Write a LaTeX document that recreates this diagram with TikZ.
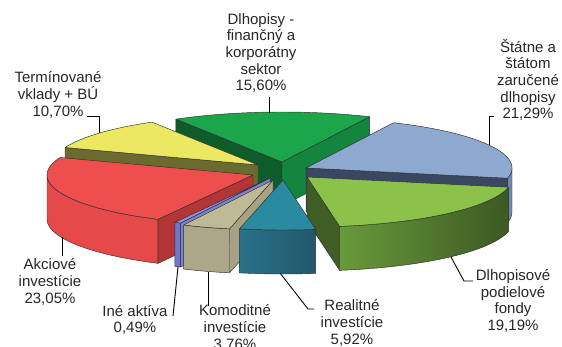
\documentclass[tikz,border=0pt]{standalone}
\usepackage{fontspec}
\setmainfont{Liberation Sans}
\definecolor{edge}{HTML}{2E2E2E}
\definecolor{gtop}{HTML}{1CA64B}
\definecolor{gcut}{HTML}{0D5C2A}
\definecolor{gcuttwo}{HTML}{13853F}
\definecolor{btop}{HTML}{8DA9CF}
\definecolor{bcut}{HTML}{3A4760}
\definecolor{bside}{HTML}{7188AC}
\definecolor{ytop}{HTML}{ECE862}
\definecolor{ycut}{HTML}{6B6B30}
\definecolor{rtop}{HTML}{EE4E4E}
\definecolor{rside}{HTML}{E64949}
\definecolor{rcut}{HTML}{B33535}
\definecolor{ltop}{HTML}{8BC34A}
\definecolor{lcut}{HTML}{3F5E26}
\definecolor{lsideA}{HTML}{689A3A}
\definecolor{lsideB}{HTML}{3C5923}
\definecolor{vtop}{HTML}{9194DC}
\definecolor{vcut}{HTML}{7E81CF}
\definecolor{vside}{HTML}{7275C4}
\definecolor{ttop}{HTML}{BFBA96}
\definecolor{tcut}{HTML}{A8A283}
\definecolor{tside}{HTML}{ADA78A}
\definecolor{ctop}{HTML}{2A8AA0}
\definecolor{csideA}{HTML}{2A7189}
\definecolor{csideB}{HTML}{21586B}
\def\pra{206}
\def\prb{50}
\def\phh{44}
\newcommand{\pcut}[4]{\path[face,fill=#4] (#1,#2) -- ({#1+\pra*cos(#3)},{#2-\prb*sin(#3)}) -- ({#1+\pra*cos(#3)},{#2-\prb*sin(#3)+\phh}) -- (#1,{#2+\phh}) -- cycle;}
\newcommand{\pside}[5]{\path[face,#5] plot[domain=#3:#4,samples=40] ({#1+\pra*cos(\x)},{#2-\prb*sin(\x)}) -- plot[domain=#4:#3,samples=40] ({#1+\pra*cos(\x)},{#2-\prb*sin(\x)+\phh}) -- cycle;}
\newcommand{\ptop}[5]{\path[face,fill=#5] (#1,#2) -- plot[domain=#3:#4,samples=60] ({#1+\pra*cos(\x)},{#2-\prb*sin(\x)}) -- cycle;}
\begin{document}
\begin{tikzpicture}[x=1pt,y=-1pt,
  face/.style={draw=edge,line width=0.45pt,line join=round},
  lbl/.style={font=\fontsize{15}{16.6}\selectfont,align=center,inner sep=0pt,text=black!85},
  leader/.style={draw=black,line width=0.9pt}]
\useasboundingbox (0,0) rectangle (562,347);
% green slice
\pcut{282}{162}{121}{gcut}
\pcut{282}{162}{64.84}{gcuttwo}
\ptop{282}{162}{121}{64.84}{gtop}
% blue slice
\pcut{306}{168}{-11.8}{bcut}
\pside{306}{168}{-11.8}{0}{fill=bside}
\ptop{306}{168}{64.84}{-11.8}{btop}
% yellow slice
\pcut{258}{165}{159.53}{ycut}
\ptop{258}{165}{159.53}{121}{ytop}
% red slice
\pcut{253}{175}{242.51}{rcut}
\pside{253}{175}{180}{242.51}{fill=rside}
\ptop{253}{175}{159.53}{242.51}{rtop}
% light green slice
\pcut{307}{177}{-80.88}{lcut}
\pside{307}{177}{-80.88}{-11.8}{left color=lsideA,right color=lsideB}
\ptop{307}{177}{-80.88}{-11.8}{ltop}
% lavender slice
\pcut{270}{178}{-115.73}{vcut}
\pside{270}{178}{-117.49}{-115.73}{fill=vside}
\ptop{270}{178}{-117.49}{-115.73}{vtop}
% tan slice
\pcut{273}{180}{-102.19}{tcut}
\pside{273}{180}{-115.73}{-102.19}{fill=tside}
\ptop{273}{180}{-115.73}{-102.19}{ttop}
% teal slice
\pside{283}{180}{-102.19}{-80.88}{left color=csideA,right color=csideB}
\ptop{283}{180}{-102.19}{-80.88}{ctop}
% labels
\node[lbl] (lg) at (261,53) {Dlhopisy -\\finančný a\\korporátny\\sektor\\15,60\%};
\node[lbl] (lb) at (528,80) {Štátne a\\štátom\\zaručené\\dlhopisy\\21,29\%};
\node[lbl] (ly) at (58,95) {Termínované\\vklady + BÚ\\10,70\%};
\node[lbl] (lr) at (50,282) {Akciové\\investície\\23,05\%};
\node[lbl] (lv) at (135,320) {Iné aktíva\\0,49\%};
\node[lbl] (lt) at (235,328) {Komoditné\\investície\\3,76\%};
\node[lbl] (lc) at (352,323) {Realitné\\investície\\5,92\%};
\node[lbl] (ll) at (513,301) {Dlhopisové\\podielové\\fondy\\19,19\%};
% leader end points
\coordinate (g1) at (269,97);   \coordinate (g2) at (269,113);
\coordinate (b1) at (494,116);  \coordinate (b2) at (489,145);
\coordinate (y1) at (87,116);   \coordinate (y2) at (99,133);
\coordinate (r1) at (62,256);   \coordinate (r2) at (62,237);
\coordinate (v1) at (173,316);  \coordinate (v2) at (178,267);
\coordinate (t1) at (208,306);  \coordinate (t2) at (208,272);
\coordinate (c1) at (314,309);  \coordinate (c0) at (308,309); \coordinate (c2) at (280,273);
\coordinate (l1) at (473,281);  \coordinate (l0) at (464,281); \coordinate (l2) at (451,257);
\draw[leader] (g1) -- (g2);
\draw[leader] (b1) -| (b2);
\draw[leader] (y1) -| (y2);
\draw[leader] (r1) -- (r2);
\draw[leader] (v1) -- (v2);
\draw[leader] (t1) -- (t2);
\draw[leader] (c1) -- (c0) -- (c2);
\draw[leader] (l1) -- (l0) -- (l2);
\end{tikzpicture}
\end{document}
